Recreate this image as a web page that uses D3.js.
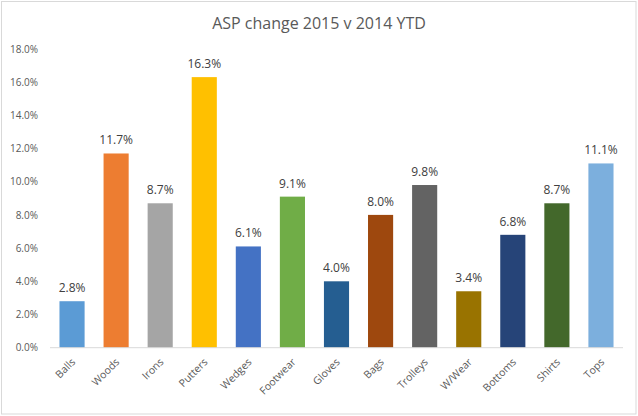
<!DOCTYPE html>
<html>
<head>
<meta charset="utf-8">
<script src="https://cdn.jsdelivr.net/npm/d3@7"></script>
<style>
  body { margin: 0; background: #fff; }
  svg { display: block; }
</style>
</head>
<body>
<div class="chart"></div>
<script>
var categories = ["Balls", "Woods", "Irons", "Putters", "Wedges", "Footwear", "Gloves",
                  "Bags", "Trolleys", "W/Wear", "Bottoms", "Shirts", "Tops"],
    values = [0.028, 0.117, 0.087, 0.163, 0.061, 0.091, 0.040,
              0.080, 0.098, 0.034, 0.068, 0.087, 0.111],
    colors = ["#5B9BD5", "#ED7D31", "#A5A5A5", "#FFC000", "#4472C4", "#70AD47", "#255E91",
              "#9E480E", "#636363", "#997300", "#264478", "#43682B", "#7CAFDD"],
    y_ticks = [0, 0.02, 0.04, 0.06, 0.08, 0.10, 0.12, 0.14, 0.16, 0.18];

var width = 638,
    height = 416,
    plot_left = 50,
    plot_right = 623,
    plot_top = 48.9,
    plot_bottom = 347.7,
    font = "'Open Sans', sans-serif";

var svg = d3.select(".chart")
    .append("svg")
    .attr("width", width)
    .attr("height", height);

// chart border
svg.append("rect")
    .attr("x", 1.5).attr("y", 1.5)
    .attr("width", 634.5).attr("height", 412.5)
    .attr("fill", "#fff")
    .attr("stroke", "#d9d9d9");

var x = d3.scaleBand()
    .domain(categories)
    .range([plot_left, plot_right])
    .paddingInner(0.43)
    .paddingOuter(0.215);

var y = d3.scaleLinear()
    .domain([0, 0.18])
    .range([plot_bottom, plot_top]);

// title
svg.append("text")
    .attr("x", 319)
    .attr("y", 29)
    .attr("text-anchor", "middle")
    .attr("font-family", font)
    .attr("font-size", "16px")
    .attr("fill", "#595959")
    .text("ASP change 2015 v 2014 YTD");

// y axis labels
var y_axis = svg.append("g")
    .attr("transform", "translate(" + (plot_left - 12) + ",0)")
    .call(d3.axisLeft(y).tickValues(y_ticks).tickFormat(d3.format(".1%")).tickSize(0).tickPadding(0));
y_axis.select(".domain").remove();
y_axis.selectAll("text")
    .attr("font-family", font)
    .attr("font-size", "10px")
    .attr("fill", "#595959");

// bars
svg.selectAll(".bar")
    .data(values)
    .enter()
    .append("rect")
    .attr("class", "bar")
    .attr("x", function(d, i) { return x(categories[i]); })
    .attr("y", function(d) { return y(d); })
    .attr("width", x.bandwidth())
    .attr("height", function(d) { return y(0) - y(d); })
    .attr("fill", function(d, i) { return colors[i]; });

// data labels
svg.selectAll(".value")
    .data(values)
    .enter()
    .append("text")
    .attr("class", "value")
    .attr("x", function(d, i) { return x(categories[i]) + x.bandwidth() / 2; })
    .attr("y", function(d) { return y(d) - 9; })
    .attr("text-anchor", "middle")
    .attr("font-family", font)
    .attr("font-size", "12px")
    .attr("fill", "#404040")
    .text(function(d) { return d3.format(".1%")(d); });

// x axis
var x_axis = svg.append("g")
    .attr("transform", "translate(0," + plot_bottom + ")")
    .call(d3.axisBottom(x).tickSize(0).tickPadding(0));
x_axis.select(".domain")
    .attr("stroke", "#d9d9d9")
    .attr("d", "M" + plot_left + ",0H" + plot_right);
x_axis.selectAll("text")
    .attr("font-family", font)
    .attr("font-size", "10.5px")
    .attr("fill", "#595959")
    .attr("text-anchor", "end")
    .attr("dy", null)
    .attr("y", 0)
    .attr("transform", "translate(4,15) rotate(-45)");
</script>
</body>
</html>
